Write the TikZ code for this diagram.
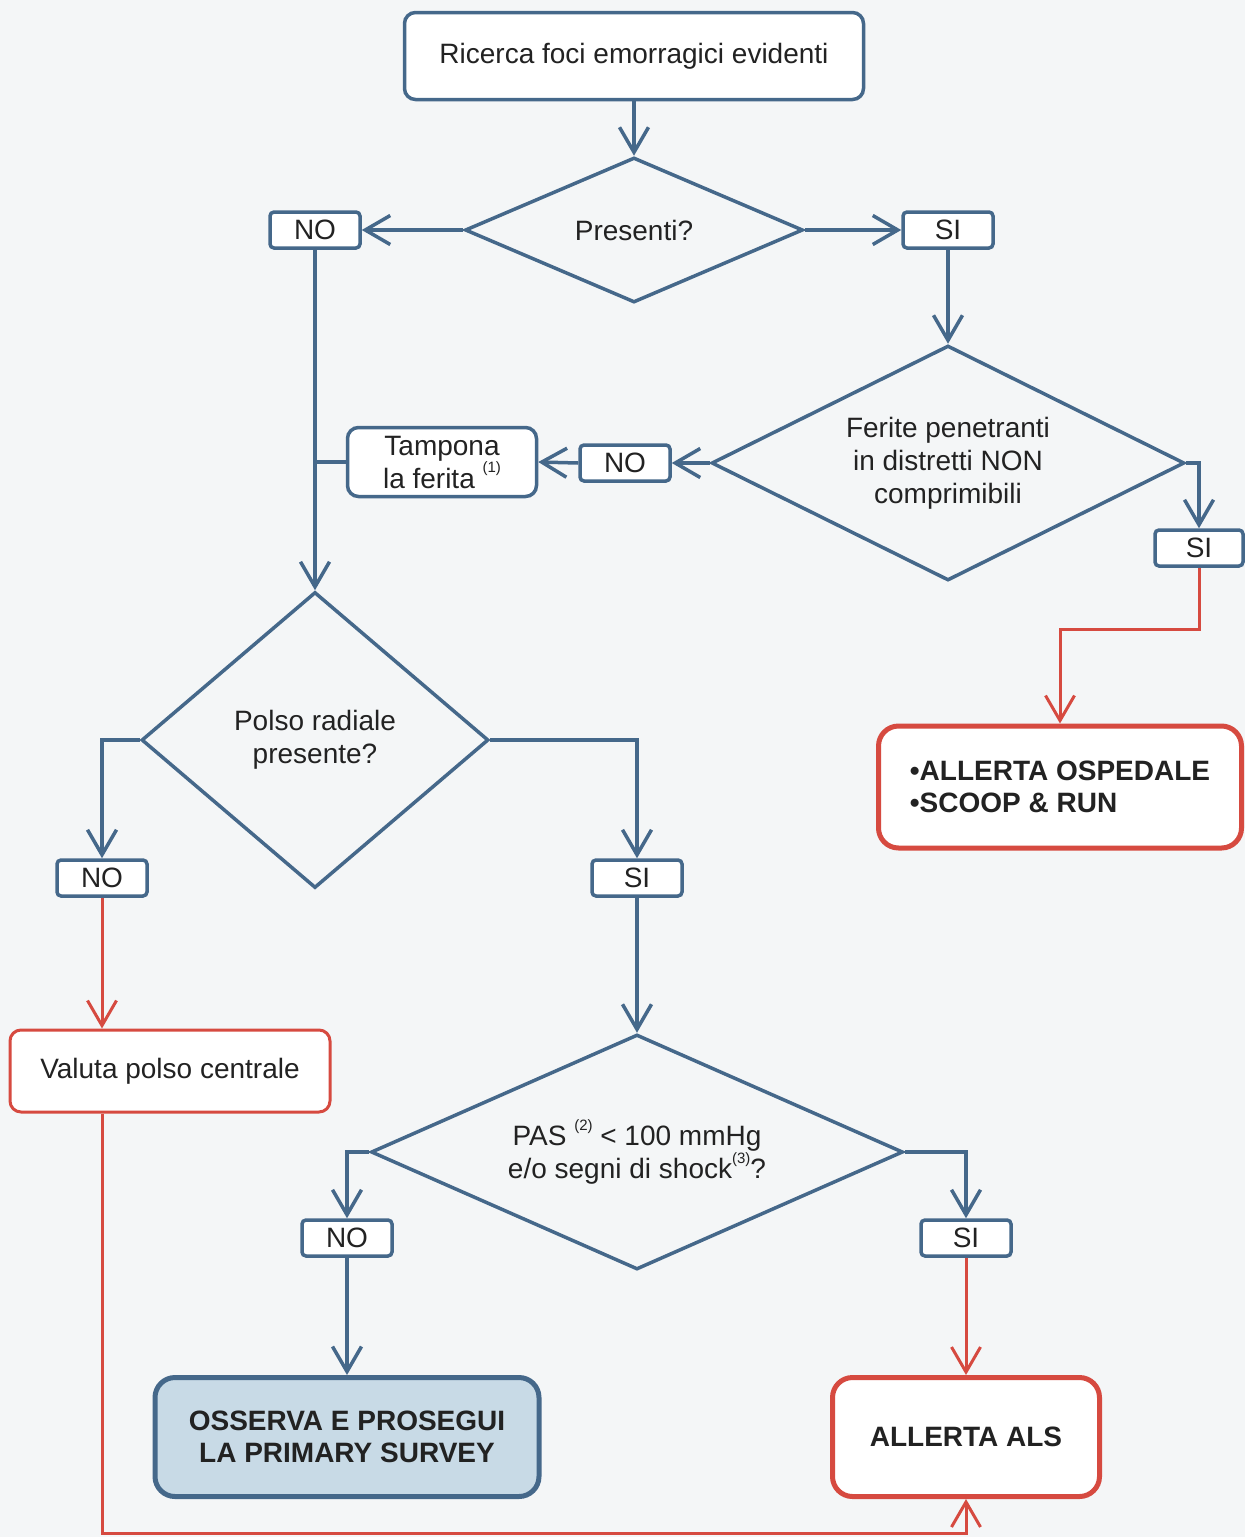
\documentclass[tikz,border=0pt]{standalone}
\usepackage{fontspec}
\setmainfont{Liberation Sans}
\usetikzlibrary{arrows.meta,shapes.geometric}
\definecolor{fblue}{HTML}{45688A}
\definecolor{fred}{HTML}{D64A40}
\definecolor{bgc}{HTML}{F4F6F7}
\definecolor{oblue}{HTML}{C8DAE6}
\definecolor{txt}{HTML}{222222}
\newcommand{\fsup}[1]{\raisebox{0.55em}{\fontsize{15}{15}\selectfont #1}}
\begin{document}
\begin{tikzpicture}[x=1pt,y=-1pt,
  txtfont/.style={font=\fontsize{28}{33}\selectfont, text=txt},
  box/.style={txtfont, draw=fblue, line width=3.5pt, rounded corners=11pt, fill=white, inner sep=0pt, align=center},
  redbox/.style={box, draw=fred},
  lbl/.style={txtfont, draw=fblue, line width=3.5pt, rounded corners=4pt, fill=white, minimum width=90pt, minimum height=36pt, inner sep=0pt},
  dia/.style={txtfont, diamond, draw=fblue, line width=3.5pt, inner sep=0pt, align=center},
  conn/.style={draw=fblue, line width=3.5pt},
  arr/.style={conn, -{Straight Barb[length=25pt,width=29pt]}},
  rarr/.style={draw=fred, line width=3pt, -{Straight Barb[length=25pt,width=29pt]}}
]
\fill[bgc] (0,0) rectangle (1245,1537);

% nodes
\node[box, minimum width=459pt, minimum height=87pt] (start) at (634,56) {Ricerca foci emorragici evidenti};
\node[dia, minimum width=338pt, minimum height=145pt, shape aspect=2.33] (d1) at (634,230) {Presenti?};
\node[lbl] (no1) at (315,230) {NO};
\node[lbl] (si1) at (948,230) {SI};

\node[dia, minimum width=473pt, minimum height=235pt, shape aspect=2] (d2) at (948,463) {Ferite penetranti\\in distretti NON\\comprimibili};
\node[lbl] (no2) at (625,463) {NO};
\node[box, minimum width=189pt, minimum height=69pt] (tamp) at (442,462) {Tampona\\la ferita \fsup{(1)}};
\node[lbl, minimum width=88pt] (si2) at (1199,548) {SI};
\node[redbox, line width=5pt, rounded corners=20pt, minimum width=363pt, minimum height=122pt, align=left, font=\fontsize{28}{32}\selectfont\bfseries] (osp) at (1060,787) {\textbullet ALLERTA OSPEDALE\\\textbullet SCOOP \& RUN};

\node[dia, minimum width=347pt, minimum height=296pt, shape aspect=1.17] (d3) at (315,740) {Polso radiale\\presente?};
\node[lbl] (no3) at (102,878) {NO};
\node[lbl] (si3) at (637,878) {SI};
\node[redbox, line width=3pt, minimum width=320pt, minimum height=82pt] (val) at (170,1071) {Valuta polso centrale};

\node[dia, minimum width=532pt, minimum height=235pt, shape aspect=2.26] (d4) at (637,1152) {PAS \fsup{(2)} {<} 100 mmHg\\e/o segni di shock\fsup{(3)}?};
\node[lbl] (no4) at (347,1238) {NO};
\node[lbl] (si4) at (966,1238) {SI};
\node[box, fill=oblue, line width=5pt, rounded corners=20pt, minimum width=384pt, minimum height=119pt, font=\fontsize{28}{32}\selectfont\bfseries] (oss) at (347,1437) {OSSERVA E PROSEGUI\\LA PRIMARY SURVEY};
\node[redbox, line width=5pt, rounded corners=20pt, minimum width=267pt, minimum height=119pt, font=\fontsize{28}{32}\selectfont\bfseries] (als) at (966,1437) {ALLERTA ALS};

% connectors
\draw[arr] (start.south) -- (d1.north);
\draw[arr] (d1.west) -- (no1.east);
\draw[arr] (d1.east) -- (si1.west);
\draw[arr] (si1.south) -- (d2.north);
\draw[arr] (d2.west) -- (no2.east);
\draw[arr] (no2.west) -- (tamp.east);
\draw[conn] (tamp.west) -- (tamp.west -| no1.south);
\draw[arr] (no1.south) -- (d3.north);
\draw[arr] (d2.east) -| (si2.north);
\draw[rarr] (si2.south) -- ++(0,62) -| (osp.north);
\draw[arr] (d3.west) -| (no3.north);
\draw[arr] (d3.east) -| (si3.north);
\draw[rarr] (no3.south) -- (no3.south |- val.north);
\draw[arr] (si3.south) -- (d4.north);
\draw[arr] (d4.west) -| (no4.north);
\draw[arr] (d4.east) -| (si4.north);
\draw[arr] (no4.south) -- (oss.north);
\draw[rarr] (si4.south) -- (als.north);
\draw[rarr] (no3.south |- val.south) -- ++(0,420) -| (als.south);
\end{tikzpicture}
\end{document}
